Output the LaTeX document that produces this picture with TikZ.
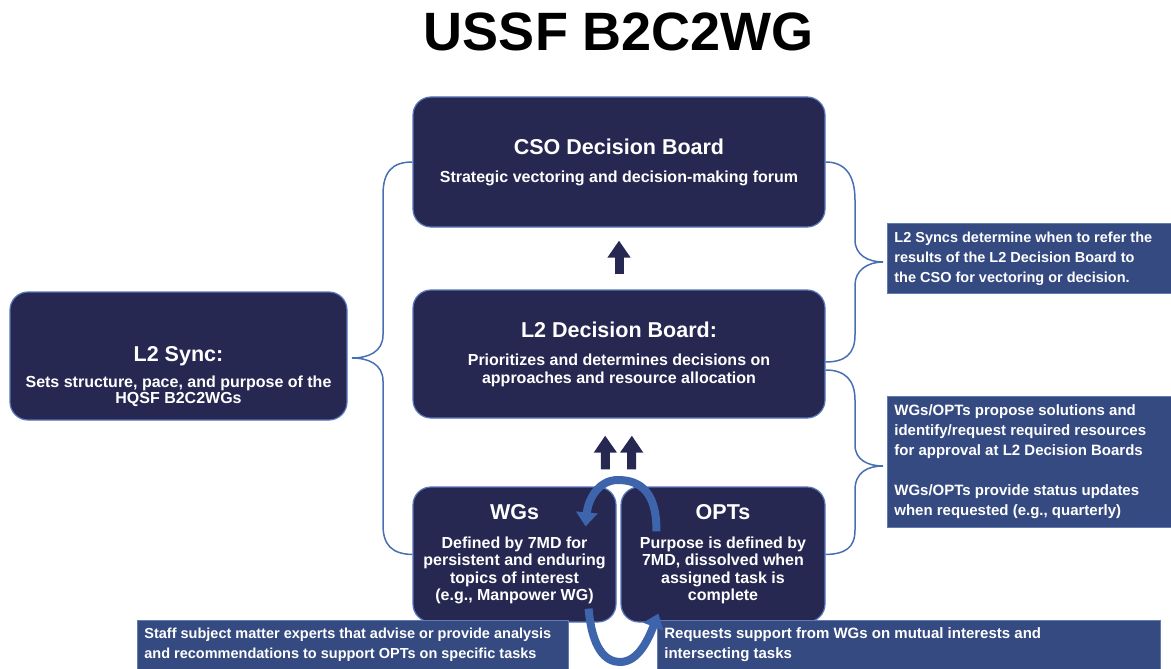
\documentclass[tikz,border=0pt]{standalone}
\usepackage{fontspec}
\setmainfont{Liberation Sans}
\usetikzlibrary{arrows.meta,calc}
\definecolor{navy}{RGB}{38,40,82}
\definecolor{boardedge}{RGB}{88,118,186}
\definecolor{notefill}{RGB}{52,74,128}
\definecolor{noteedge}{RGB}{96,122,178}
\definecolor{bracecol}{RGB}{72,110,180}
\definecolor{loopblue}{RGB}{62,100,172}
\newcommand{\boardhead}[1]{{\fontsize{21.5}{24}\selectfont #1}}

\begin{document}
\begin{tikzpicture}[x=1pt,y=-1pt,>=Stealth,
   every node/.style={font=\bfseries\fontsize{16}{18}\selectfont, text=white},
   board/.style={draw=boardedge, line width=1.2pt, fill=navy, rounded corners=18pt,
     inner sep=0pt, align=center},
   note/.style={draw=noteedge, line width=0.8pt, fill=notefill, anchor=north west,
     align=flush left, inner xsep=7pt, inner ysep=0pt,
     font=\bfseries\fontsize{15}{20}\selectfont},
   brace/.style={draw=bracecol, line width=1.5pt},
   blockarrow/.style={draw=navy, line width=9pt, -{Triangle[length=17pt,width=22pt]}},
   loopto/.style={draw=loopblue, line width=8pt, -{Triangle[length=14pt,width=21pt]}}]
  \useasboundingbox (0,0) rectangle (1171,669);

  \node[text=black, font=\bfseries\fontsize{54}{60}\selectfont] (title) at (619,32) {USSF B2C2WG};

  % tips of the brackets
  \coordinate (lefttip) at (352,358);
  \coordinate (uptip) at (883,262);
  \coordinate (lowtip) at (883,466);

  % boards
  \node[board, minimum width=412pt, minimum height=130pt] (cso) at (619,162)
    {\boardhead{CSO Decision Board}\\[10pt]Strategic vectoring and decision-making forum};
  \node[board, minimum width=412pt, minimum height=128pt] (ltwo) at (619,354)
    {\boardhead{L2 Decision Board:}\\[10pt]Prioritizes and determines decisions on\\approaches and resource allocation};
  \node[board, minimum width=337pt, minimum height=128pt] (sync) at (178.5,356) {};
  \node[align=center, font=\bfseries\fontsize{16}{16}\selectfont] (synctext) at ($(sync.center)+(0,21)$)
    {\boardhead{L2 Sync:}\\[9pt]Sets structure, pace, and purpose of the\\HQSF B2C2WGs};
  \node[board, minimum width=203pt, minimum height=135pt,
    font=\bfseries\fontsize{16}{17.5}\selectfont] (wgs) at (514.5,554.5)
    {\boardhead{WGs}\\[11pt]Defined by 7MD for\\persistent and enduring\\topics of interest\\(e.g., Manpower WG)};
  \node[board, minimum width=204pt, minimum height=135pt,
    font=\bfseries\fontsize{16}{17.5}\selectfont] (opts) at (723,554.5)
    {\boardhead{OPTs}\\[11pt]Purpose is defined by\\7MD, dissolved when\\assigned task is\\complete};

  % notes
  \node[note, minimum width=284pt, minimum height=70pt, text width=270pt,
    font=\bfseries\fontsize{14.5}{20}\selectfont] (synote) at (887,223)
    {L2 Syncs determine when to refer the\\results of the L2 Decision Board to\\the CSO for vectoring or decision.};
  \node[note, minimum width=284pt, minimum height=131pt, text width=270pt] (wgopnote) at (887,396)
    {WGs/OPTs propose solutions and\\identify/request required resources\\for approval at L2 Decision Boards\\[20pt]WGs/OPTs provide status updates\\when requested (e.g., quarterly)};
  \node[note, minimum width=431pt, minimum height=49pt, text width=417pt,
    font=\bfseries\fontsize{14.5}{20}\selectfont] (wgsnote) at (137,620)
    {Staff subject matter experts that advise or provide analysis\\and recommendations to support OPTs on specific tasks};
  \node[note, minimum width=503pt, minimum height=49pt, text width=489pt] (optsnote) at (657,620)
    {Requests support from WGs on mutual interests and\\intersecting tasks};

  % brackets
  \draw[brace] (cso.west) .. controls (392,162) and (383,172) .. (383,195) -- (383,335)
    .. controls (383,352) and (368,358) .. (lefttip)
    .. controls (368,358) and (383,364) .. (383,381) -- (383,525)
    .. controls (383,545) and (392,554) .. (wgs.west);
  \draw[brace] (cso.east) .. controls (845,162) and (855,175) .. (855,200) -- (855,240)
    .. controls (855,255) and (868,262) .. (uptip)
    .. controls (868,262) and (855,270) .. (855,285) -- (855,335)
    .. controls (855,354) and (845,362) .. ([yshift=-8pt]ltwo.east);
  \draw[brace] ([yshift=-16pt]ltwo.east) .. controls (845,370) and (855,380) .. (855,400) -- (855,445)
    .. controls (855,460) and (868,466) .. (lowtip)
    .. controls (868,466) and (855,472) .. (855,490) -- (855,530)
    .. controls (855,548) and (845,554) .. (opts.east);

  % arrows
  \draw[blockarrow, shorten <=15pt, shorten >=13pt] (ltwo.north) -- (cso.south);
  \draw[blockarrow, shorten <=17pt, shorten >=17pt] ([xshift=-11pt]wgs.north east) -- ([xshift=-14pt]ltwo.south);
  \draw[blockarrow, shorten <=17pt, shorten >=17pt] ([xshift=11pt]opts.north west) -- ([xshift=13pt]ltwo.south);
  \draw[loopto] ([shift={(36pt,-45pt)}]opts.north west) .. controls (657,492) and (640,480) .. (618,480)
    .. controls (598,480) and (588,500) .. ([shift={(-31pt,-40pt)}]wgs.north east);
  \draw[loopto] ([shift={(-28pt,14pt)}]wgs.south east) .. controls (592,648) and (605,662) .. (620,662)
    .. controls (638,662) and (648,640) .. ([shift={(38pt,9pt)}]opts.south west);
\end{tikzpicture}
\end{document}
